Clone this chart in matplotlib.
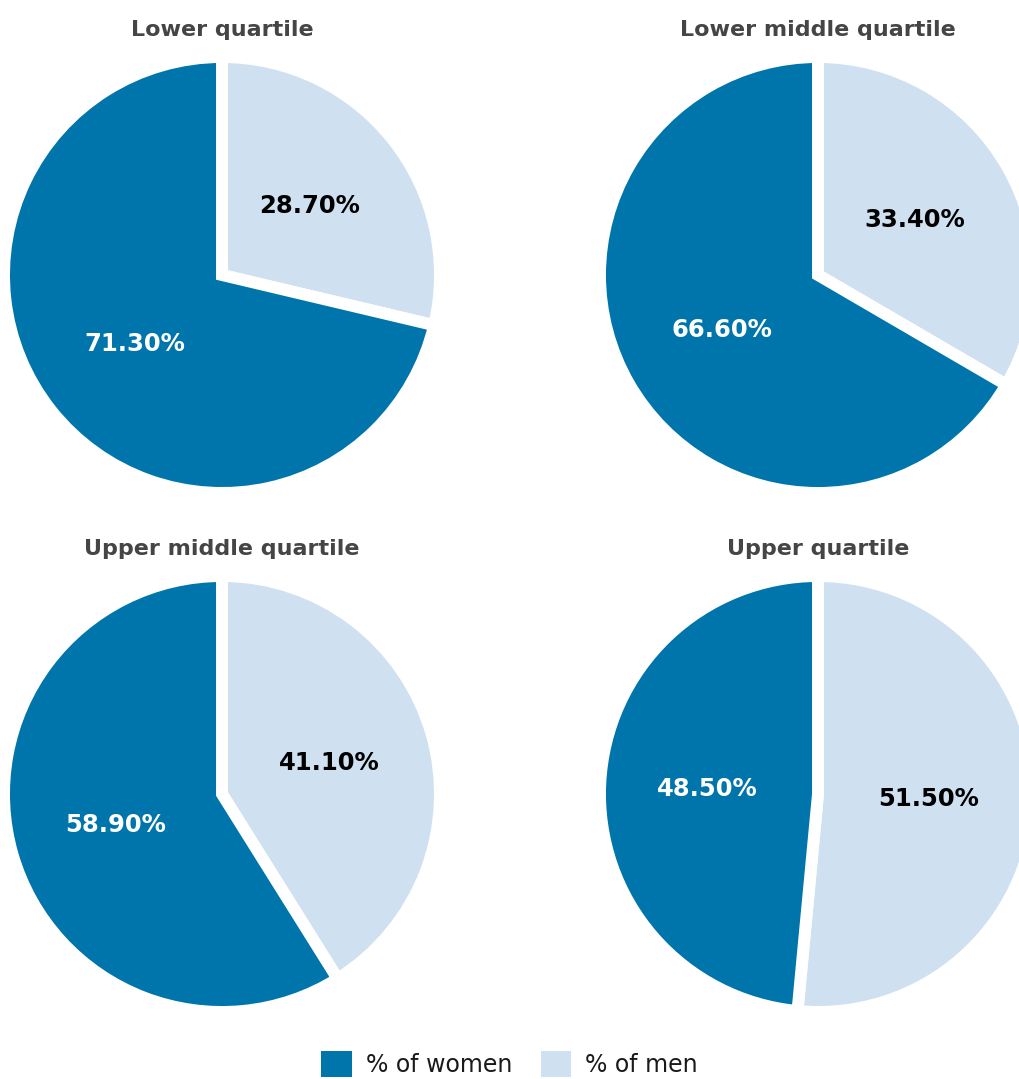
import matplotlib
matplotlib.use("Agg")
import matplotlib.pyplot as plt
from matplotlib.patches import Patch

titles = ["Lower quartile", "Lower middle quartile", "Upper middle quartile", "Upper quartile"]
men = [28.7, 33.4, 41.1, 51.5]
women = [71.3, 66.6, 58.9, 48.5]
series_labels = ["% of women", "% of men"]

C_WOMEN = "#0075AB"
C_MEN = "#CFE1F0"
TITLE_C = "#454545"

W, H = 1019, 1079
fig = plt.figure(figsize=(W / 100, H / 100), dpi=100)
plt.rcParams['font.family'] = ['DejaVu Sans']

centers = [(222, 275), (818, 275), (222, 794), (818, 794)]
title_y = [30, 30, 549, 549]
R = 218  # px, radius including half of white edge

for i in range(4):
    cx, cy = centers[i]
    ax = fig.add_axes([(cx - R) / W, (H - cy - R) / H, 2 * R / W, 2 * R / H])
    vals = [men[i], women[i]]
    wedges, texts, autotexts = ax.pie(
        vals, colors=[C_MEN, C_WOMEN], startangle=90, counterclock=False,
        radius=1, autopct=lambda p: f"{p:.2f}%", pctdistance=0.51,
        wedgeprops=dict(edgecolor="white", linewidth=8.6),
        textprops=dict(fontsize=17.5, fontweight="bold"))
    autotexts[0].set_color("black")
    autotexts[1].set_color("white")
    ax.set_xlim(-1, 1)
    ax.set_ylim(-1, 1)
    ax.set_aspect("equal")
    ax.axis("off")
    fig.text(cx / W, 1 - title_y[i] / H, titles[i], ha="center", va="center",
             fontsize=16, fontweight="bold", color=TITLE_C)

handles = [Patch(facecolor=C_WOMEN), Patch(facecolor=C_MEN)]
fig.legend(handles, series_labels, loc="center", bbox_to_anchor=(0.5, 1 - 1064 / H),
           ncol=2, frameon=False, fontsize=17, handlelength=1.28, handleheight=1.3,
           handletextpad=0.6, columnspacing=1.2, labelcolor="#1a1a1a",
           borderpad=0, borderaxespad=0)

fig.savefig("out.png", dpi=100)
